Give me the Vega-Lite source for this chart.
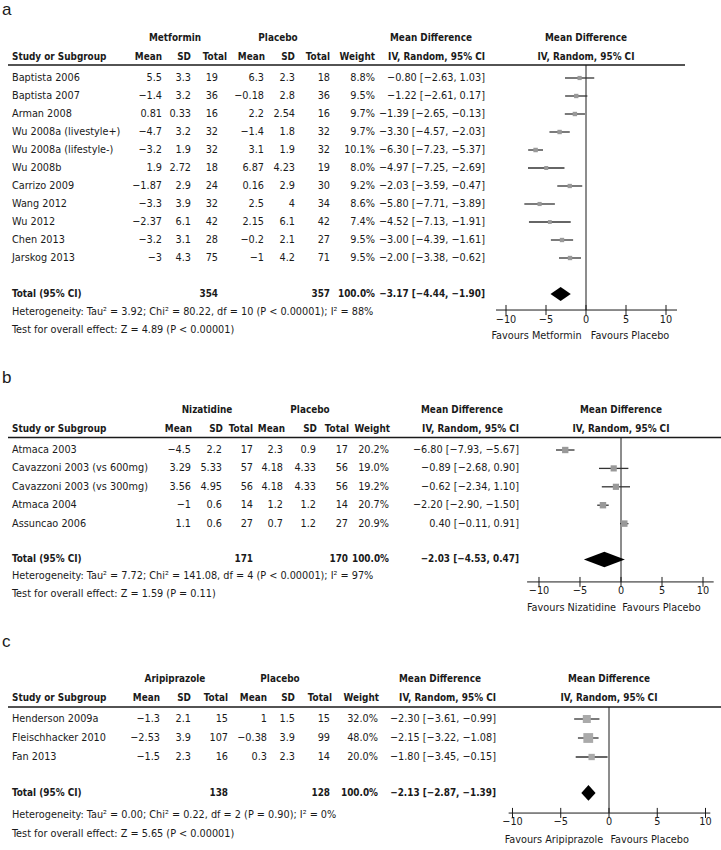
{
"$schema":"https://vega.github.io/schema/vega-lite/v6.json",
"padding":0,
"background":"white",
"spacing":0,
"config":{"view":{"stroke":null},"axis":{"disable":true},"legend":{"disable":true},
"text":{"font":"DejaVu Sans Condensed, Liberation Sans Narrow, sans-serif","fontSize":10.8,"baseline":"middle","color":"#1a1a1a"},
"rule":{"color":"#1a1a1a"},"concat":{"spacing":0}},
"datasets":{
"a":[
{"i":0,"study":"Baptista 2006","m1":5.5,"sd1":3.3,"n1":19,"m2":6.3,"sd2":2.3,"n2":18,"w":0.088,"md":-0.8,"lo":-2.63,"hi":1.03,"ci":"−0.80 [−2.63, 1.03]"},
{"i":1,"study":"Baptista 2007","m1":-1.4,"sd1":3.2,"n1":36,"m2":-0.18,"sd2":2.8,"n2":36,"w":0.095,"md":-1.22,"lo":-2.61,"hi":0.17,"ci":"−1.22 [−2.61, 0.17]"},
{"i":2,"study":"Arman 2008","m1":0.81,"sd1":0.33,"n1":16,"m2":2.2,"sd2":2.54,"n2":16,"w":0.097,"md":-1.39,"lo":-2.65,"hi":-0.13,"ci":"−1.39 [−2.65, −0.13]"},
{"i":3,"study":"Wu 2008a (livestyle+)","m1":-4.7,"sd1":3.2,"n1":32,"m2":-1.4,"sd2":1.8,"n2":32,"w":0.097,"md":-3.3,"lo":-4.57,"hi":-2.03,"ci":"−3.30 [−4.57, −2.03]"},
{"i":4,"study":"Wu 2008a (lifestyle-)","m1":-3.2,"sd1":1.9,"n1":32,"m2":3.1,"sd2":1.9,"n2":32,"w":0.101,"md":-6.3,"lo":-7.23,"hi":-5.37,"ci":"−6.30 [−7.23, −5.37]"},
{"i":5,"study":"Wu 2008b","m1":1.9,"sd1":2.72,"n1":18,"m2":6.87,"sd2":4.23,"n2":19,"w":0.08,"md":-4.97,"lo":-7.25,"hi":-2.69,"ci":"−4.97 [−7.25, −2.69]"},
{"i":6,"study":"Carrizo 2009","m1":-1.87,"sd1":2.9,"n1":24,"m2":0.16,"sd2":2.9,"n2":30,"w":0.092,"md":-2.03,"lo":-3.59,"hi":-0.47,"ci":"−2.03 [−3.59, −0.47]"},
{"i":7,"study":"Wang 2012","m1":-3.3,"sd1":3.9,"n1":32,"m2":2.5,"sd2":4,"n2":34,"w":0.086,"md":-5.8,"lo":-7.71,"hi":-3.89,"ci":"−5.80 [−7.71, −3.89]"},
{"i":8,"study":"Wu 2012","m1":-2.37,"sd1":6.1,"n1":42,"m2":2.15,"sd2":6.1,"n2":42,"w":0.074,"md":-4.52,"lo":-7.13,"hi":-1.91,"ci":"−4.52 [−7.13, −1.91]"},
{"i":9,"study":"Chen 2013","m1":-3.2,"sd1":3.1,"n1":28,"m2":-0.2,"sd2":2.1,"n2":27,"w":0.095,"md":-3,"lo":-4.39,"hi":-1.61,"ci":"−3.00 [−4.39, −1.61]"},
{"i":10,"study":"Jarskog 2013","m1":-3,"sd1":4.3,"n1":75,"m2":-1,"sd2":4.2,"n2":71,"w":0.095,"md":-2,"lo":-3.38,"hi":-0.62,"ci":"−2.00 [−3.38, −0.62]"}
],
"aTot":[{"n1":354,"n2":357,"w":1,"md":-3.17,"lo":-4.44,"hi":-1.9,"ci":"−3.17 [−4.44, −1.90]"}],
"b":[
{"i":0,"study":"Atmaca 2003","m1":-4.5,"sd1":2.2,"n1":17,"m2":2.3,"sd2":0.9,"n2":17,"w":0.202,"md":-6.8,"lo":-7.93,"hi":-5.67,"ci":"−6.80 [−7.93, −5.67]"},
{"i":1,"study":"Cavazzoni 2003 (vs 600mg)","m1":3.29,"sd1":5.33,"n1":57,"m2":4.18,"sd2":4.33,"n2":56,"w":0.19,"md":-0.89,"lo":-2.68,"hi":0.9,"ci":"−0.89 [−2.68, 0.90]"},
{"i":2,"study":"Cavazzoni 2003 (vs 300mg)","m1":3.56,"sd1":4.95,"n1":56,"m2":4.18,"sd2":4.33,"n2":56,"w":0.192,"md":-0.62,"lo":-2.34,"hi":1.1,"ci":"−0.62 [−2.34, 1.10]"},
{"i":3,"study":"Atmaca 2004","m1":-1,"sd1":0.6,"n1":14,"m2":1.2,"sd2":1.2,"n2":14,"w":0.207,"md":-2.2,"lo":-2.9,"hi":-1.5,"ci":"−2.20 [−2.90, −1.50]"},
{"i":4,"study":"Assuncao 2006","m1":1.1,"sd1":0.6,"n1":27,"m2":0.7,"sd2":1.2,"n2":27,"w":0.209,"md":0.4,"lo":-0.11,"hi":0.91,"ci":"0.40 [−0.11, 0.91]"}
],
"bTot":[{"n1":171,"n2":170,"w":1,"md":-2.03,"lo":-4.53,"hi":0.47,"ci":"−2.03 [−4.53, 0.47]"}],
"c":[
{"i":0,"study":"Henderson 2009a","m1":-1.3,"sd1":2.1,"n1":15,"m2":1,"sd2":1.5,"n2":15,"w":0.32,"md":-2.3,"lo":-3.61,"hi":-0.99,"ci":"−2.30 [−3.61, −0.99]"},
{"i":1,"study":"Fleischhacker 2010","m1":-2.53,"sd1":3.9,"n1":107,"m2":-0.38,"sd2":3.9,"n2":99,"w":0.48,"md":-2.15,"lo":-3.22,"hi":-1.08,"ci":"−2.15 [−3.22, −1.08]"},
{"i":2,"study":"Fan 2013","m1":-1.5,"sd1":2.3,"n1":16,"m2":0.3,"sd2":2.3,"n2":14,"w":0.2,"md":-1.8,"lo":-3.45,"hi":-0.15,"ci":"−1.80 [−3.45, −0.15]"}
],
"cTot":[{"n1":138,"n2":128,"w":1,"md":-2.13,"lo":-2.87,"hi":-1.39,"ci":"−2.13 [−2.87, −1.39]"}],
"ticks":[{"v":-10},{"v":-5},{"v":0},{"v":5},{"v":10}]
},
"vconcat":[
{"hconcat":[
{"width":486,"height":350,"data":{"values":[{}]},"layer":[
{"mark":{"type":"text","text":"a","font":"Liberation Sans","fontSize":17,"align":"left"},"encoding":{"x":{"datum":2,"type":"quantitative","scale":{"domain":[0,486],"nice":false,"zero":false}},"y":{"datum":-3.78,"type":"quantitative","scale":{"domain":[-4.333,15.111],"reverse":true,"nice":false,"zero":false}}}},
{"mark":{"type":"text","text":"Metformin","fontWeight":"bold","fontSize":9.9,"align":"center"},"encoding":{"x":{"datum":175},"y":{"datum":-2.22}}},
{"mark":{"type":"text","text":"Placebo","fontWeight":"bold","fontSize":9.9,"align":"center"},"encoding":{"x":{"datum":278},"y":{"datum":-2.22}}},
{"mark":{"type":"text","text":"Mean Difference","fontWeight":"bold","fontSize":9.9,"align":"center"},"encoding":{"x":{"datum":431},"y":{"datum":-2.22}}},
{"mark":{"type":"text","text":"Study or Subgroup","fontWeight":"bold","fontSize":9.9,"align":"left"},"encoding":{"x":{"datum":12},"y":{"datum":-1.17}}},
{"mark":{"type":"text","text":"Mean","fontWeight":"bold","fontSize":9.9,"align":"right"},"encoding":{"x":{"datum":162},"y":{"datum":-1.17}}},
{"mark":{"type":"text","text":"SD","fontWeight":"bold","fontSize":9.9,"align":"right"},"encoding":{"x":{"datum":191},"y":{"datum":-1.17}}},
{"mark":{"type":"text","text":"Total","fontWeight":"bold","fontSize":9.9,"align":"right"},"encoding":{"x":{"datum":227},"y":{"datum":-1.17}}},
{"mark":{"type":"text","text":"Mean","fontWeight":"bold","fontSize":9.9,"align":"right"},"encoding":{"x":{"datum":265},"y":{"datum":-1.17}}},
{"mark":{"type":"text","text":"SD","fontWeight":"bold","fontSize":9.9,"align":"right"},"encoding":{"x":{"datum":295},"y":{"datum":-1.17}}},
{"mark":{"type":"text","text":"Total","fontWeight":"bold","fontSize":9.9,"align":"right"},"encoding":{"x":{"datum":330},"y":{"datum":-1.17}}},
{"mark":{"type":"text","text":"Weight","fontWeight":"bold","fontSize":9.9,"align":"right"},"encoding":{"x":{"datum":375},"y":{"datum":-1.17}}},
{"mark":{"type":"text","text":"IV, Random, 95% CI","fontWeight":"bold","fontSize":9.9,"align":"right"},"encoding":{"x":{"datum":485},"y":{"datum":-1.17}}},
{"mark":{"type":"rule","strokeWidth":1.5},"encoding":{"x":{"datum":8},"x2":{"datum":486},"y":{"datum":-0.72}}},
{"data":{"name":"a"},"mark":{"type":"text","align":"left"},"encoding":{"x":{"datum":12},"y":{"field":"i","type":"quantitative"},"text":{"field":"study"}}},
{"data":{"name":"a"},"mark":{"type":"text","align":"right"},"encoding":{"x":{"datum":162},"y":{"field":"i","type":"quantitative"},"text":{"field":"m1","type":"quantitative"}}},
{"data":{"name":"a"},"mark":{"type":"text","align":"right"},"encoding":{"x":{"datum":191},"y":{"field":"i","type":"quantitative"},"text":{"field":"sd1","type":"quantitative"}}},
{"data":{"name":"a"},"mark":{"type":"text","align":"right"},"encoding":{"x":{"datum":218},"y":{"field":"i","type":"quantitative"},"text":{"field":"n1","type":"quantitative"}}},
{"data":{"name":"a"},"mark":{"type":"text","align":"right"},"encoding":{"x":{"datum":264},"y":{"field":"i","type":"quantitative"},"text":{"field":"m2","type":"quantitative"}}},
{"data":{"name":"a"},"mark":{"type":"text","align":"right"},"encoding":{"x":{"datum":295},"y":{"field":"i","type":"quantitative"},"text":{"field":"sd2","type":"quantitative"}}},
{"data":{"name":"a"},"mark":{"type":"text","align":"right"},"encoding":{"x":{"datum":330},"y":{"field":"i","type":"quantitative"},"text":{"field":"n2","type":"quantitative"}}},
{"data":{"name":"a"},"mark":{"type":"text","align":"right"},"encoding":{"x":{"datum":375},"y":{"field":"i","type":"quantitative"},"text":{"field":"w","type":"quantitative","format":".1%"}}},
{"data":{"name":"a"},"mark":{"type":"text","align":"right"},"encoding":{"x":{"datum":485},"y":{"field":"i","type":"quantitative"},"text":{"field":"ci"}}},
{"mark":{"type":"text","text":"Total (95% CI)","fontWeight":"bold","fontSize":9.9,"align":"left"},"encoding":{"x":{"datum":12},"y":{"datum":12}}},
{"data":{"name":"aTot"},"mark":{"type":"text","align":"right","fontWeight":"bold","fontSize":9.9},"encoding":{"x":{"datum":218},"y":{"datum":12},"text":{"field":"n1","type":"quantitative"}}},
{"data":{"name":"aTot"},"mark":{"type":"text","align":"right","fontWeight":"bold","fontSize":9.9},"encoding":{"x":{"datum":330},"y":{"datum":12},"text":{"field":"n2","type":"quantitative"}}},
{"data":{"name":"aTot"},"mark":{"type":"text","align":"right","fontWeight":"bold","fontSize":9.9},"encoding":{"x":{"datum":375},"y":{"datum":12},"text":{"field":"w","type":"quantitative","format":".1%"}}},
{"data":{"name":"aTot"},"mark":{"type":"text","align":"right","fontWeight":"bold","fontSize":9.9},"encoding":{"x":{"datum":485},"y":{"datum":12},"text":{"field":"ci"}}},
{"mark":{"type":"text","text":"Heterogeneity: Tau² = 3.92; Chi² = 80.22, df = 10 (P < 0.00001); I² = 88%","align":"left"},"encoding":{"x":{"datum":12},"y":{"datum":13}}},
{"mark":{"type":"text","text":"Test for overall effect: Z = 4.89 (P < 0.00001)","align":"left"},"encoding":{"x":{"datum":12},"y":{"datum":14}}}
]},
{"width":200,"height":350,"data":{"values":[{}]},"layer":[
{"mark":{"type":"text","text":"Mean Difference","fontWeight":"bold","fontSize":9.9},"encoding":{"x":{"datum":0,"type":"quantitative","scale":{"domain":[-12.5,12.5],"nice":false,"zero":false}},"y":{"datum":-2.22,"type":"quantitative","scale":{"domain":[-4.333,15.111],"reverse":true,"nice":false,"zero":false}}}},
{"mark":{"type":"text","text":"IV, Random, 95% CI","fontWeight":"bold","fontSize":9.9},"encoding":{"x":{"datum":0},"y":{"datum":-1.17}}},
{"mark":{"type":"rule","strokeWidth":1.5},"encoding":{"x":{"datum":-12.5},"x2":{"datum":12.375},"y":{"datum":-0.72}}},
{"mark":{"type":"rule","strokeWidth":1},"encoding":{"x":{"datum":0},"y":{"datum":-0.72},"y2":{"datum":12.89}}},
{"data":{"name":"a"},"mark":{"type":"rule","color":"#333","strokeWidth":1.3},"encoding":{"x":{"field":"lo","type":"quantitative"},"x2":{"field":"hi"},"y":{"field":"i","type":"quantitative"}}},
{"data":{"name":"a"},"mark":{"type":"point","shape":"square","filled":true,"color":"#999","opacity":1},"encoding":{"x":{"field":"md","type":"quantitative"},"y":{"field":"i","type":"quantitative"},"size":{"field":"w","type":"quantitative","scale":{"domain":[0,1],"range":[0,200]}}}},
{"data":{"name":"aTot"},"mark":{"type":"point","shape":"M-1,0L0,-0.7L1,0L0,0.7Z","filled":true,"color":"#000","opacity":1},"encoding":{"x":{"field":"md","type":"quantitative"},"y":{"datum":12},"size":{"value":412}}},
{"mark":{"type":"rule","strokeWidth":1},"encoding":{"x":{"datum":-11.25},"x2":{"datum":11.375},"y":{"datum":12.89}}},
{"data":{"name":"ticks"},"mark":{"type":"rule","strokeWidth":1},"encoding":{"x":{"field":"v","type":"quantitative"},"y":{"datum":12.61},"y2":{"datum":13.17}}},
{"data":{"name":"ticks"},"mark":{"type":"text"},"encoding":{"x":{"field":"v","type":"quantitative"},"y":{"datum":13.47},"text":{"field":"v","type":"quantitative"}}},
{"mark":{"type":"text","text":"Favours Metformin","align":"right"},"encoding":{"x":{"datum":-0.55},"y":{"datum":14.33}}},
{"mark":{"type":"text","text":"Favours Placebo","align":"left"},"encoding":{"x":{"datum":0.6},"y":{"datum":14.33}}}
]}
],"spacing":0,"bounds":"flush"},
{"hconcat":[
{"width":521,"height":270,"data":{"values":[{}]},"layer":[
{"mark":{"type":"text","text":"b","font":"Liberation Sans","fontSize":17,"align":"left"},"encoding":{"x":{"datum":2,"type":"quantitative","scale":{"domain":[0,521],"nice":false,"zero":false}},"y":{"datum":-3.91,"type":"quantitative","scale":{"domain":[-5.435,9.239],"reverse":true,"nice":false,"zero":false}}}},
{"mark":{"type":"text","text":"Nizatidine","fontWeight":"bold","fontSize":9.9,"align":"center"},"encoding":{"x":{"datum":207},"y":{"datum":-2.17}}},
{"mark":{"type":"text","text":"Placebo","fontWeight":"bold","fontSize":9.9,"align":"center"},"encoding":{"x":{"datum":310},"y":{"datum":-2.17}}},
{"mark":{"type":"text","text":"Mean Difference","fontWeight":"bold","fontSize":9.9,"align":"center"},"encoding":{"x":{"datum":462},"y":{"datum":-2.17}}},
{"mark":{"type":"text","text":"Study or Subgroup","fontWeight":"bold","fontSize":9.9,"align":"left"},"encoding":{"x":{"datum":12},"y":{"datum":-1.14}}},
{"mark":{"type":"text","text":"Mean","fontWeight":"bold","fontSize":9.9,"align":"right"},"encoding":{"x":{"datum":192},"y":{"datum":-1.14}}},
{"mark":{"type":"text","text":"SD","fontWeight":"bold","fontSize":9.9,"align":"right"},"encoding":{"x":{"datum":223},"y":{"datum":-1.14}}},
{"mark":{"type":"text","text":"Total","fontWeight":"bold","fontSize":9.9,"align":"right"},"encoding":{"x":{"datum":253},"y":{"datum":-1.14}}},
{"mark":{"type":"text","text":"Mean","fontWeight":"bold","fontSize":9.9,"align":"right"},"encoding":{"x":{"datum":285},"y":{"datum":-1.14}}},
{"mark":{"type":"text","text":"SD","fontWeight":"bold","fontSize":9.9,"align":"right"},"encoding":{"x":{"datum":317},"y":{"datum":-1.14}}},
{"mark":{"type":"text","text":"Total","fontWeight":"bold","fontSize":9.9,"align":"right"},"encoding":{"x":{"datum":349},"y":{"datum":-1.14}}},
{"mark":{"type":"text","text":"Weight","fontWeight":"bold","fontSize":9.9,"align":"right"},"encoding":{"x":{"datum":390},"y":{"datum":-1.14}}},
{"mark":{"type":"text","text":"IV, Random, 95% CI","fontWeight":"bold","fontSize":9.9,"align":"right"},"encoding":{"x":{"datum":519},"y":{"datum":-1.14}}},
{"mark":{"type":"rule","strokeWidth":1.5},"encoding":{"x":{"datum":8},"x2":{"datum":521},"y":{"datum":-0.68}}},
{"data":{"name":"b"},"mark":{"type":"text","align":"left"},"encoding":{"x":{"datum":12},"y":{"field":"i","type":"quantitative"},"text":{"field":"study"}}},
{"data":{"name":"b"},"mark":{"type":"text","align":"right"},"encoding":{"x":{"datum":191},"y":{"field":"i","type":"quantitative"},"text":{"field":"m1","type":"quantitative"}}},
{"data":{"name":"b"},"mark":{"type":"text","align":"right"},"encoding":{"x":{"datum":222},"y":{"field":"i","type":"quantitative"},"text":{"field":"sd1","type":"quantitative"}}},
{"data":{"name":"b"},"mark":{"type":"text","align":"right"},"encoding":{"x":{"datum":253},"y":{"field":"i","type":"quantitative"},"text":{"field":"n1","type":"quantitative"}}},
{"data":{"name":"b"},"mark":{"type":"text","align":"right"},"encoding":{"x":{"datum":283},"y":{"field":"i","type":"quantitative"},"text":{"field":"m2","type":"quantitative"}}},
{"data":{"name":"b"},"mark":{"type":"text","align":"right"},"encoding":{"x":{"datum":316},"y":{"field":"i","type":"quantitative"},"text":{"field":"sd2","type":"quantitative"}}},
{"data":{"name":"b"},"mark":{"type":"text","align":"right"},"encoding":{"x":{"datum":348},"y":{"field":"i","type":"quantitative"},"text":{"field":"n2","type":"quantitative"}}},
{"data":{"name":"b"},"mark":{"type":"text","align":"right"},"encoding":{"x":{"datum":389},"y":{"field":"i","type":"quantitative"},"text":{"field":"w","type":"quantitative","format":".1%"}}},
{"data":{"name":"b"},"mark":{"type":"text","align":"right"},"encoding":{"x":{"datum":519},"y":{"field":"i","type":"quantitative"},"text":{"field":"ci"}}},
{"mark":{"type":"text","text":"Total (95% CI)","fontWeight":"bold","fontSize":9.9,"align":"left"},"encoding":{"x":{"datum":12},"y":{"datum":5.95}}},
{"data":{"name":"bTot"},"mark":{"type":"text","align":"right","fontWeight":"bold","fontSize":9.9},"encoding":{"x":{"datum":253},"y":{"datum":5.95},"text":{"field":"n1","type":"quantitative"}}},
{"data":{"name":"bTot"},"mark":{"type":"text","align":"right","fontWeight":"bold","fontSize":9.9},"encoding":{"x":{"datum":348},"y":{"datum":5.95},"text":{"field":"n2","type":"quantitative"}}},
{"data":{"name":"bTot"},"mark":{"type":"text","align":"right","fontWeight":"bold","fontSize":9.9},"encoding":{"x":{"datum":389},"y":{"datum":5.95},"text":{"field":"w","type":"quantitative","format":".1%"}}},
{"data":{"name":"bTot"},"mark":{"type":"text","align":"right","fontWeight":"bold","fontSize":9.9},"encoding":{"x":{"datum":519},"y":{"datum":5.95},"text":{"field":"ci"}}},
{"mark":{"type":"text","text":"Heterogeneity: Tau² = 7.72; Chi² = 141.08, df = 4 (P < 0.00001); I² = 97%","align":"left"},"encoding":{"x":{"datum":12},"y":{"datum":6.85}}},
{"mark":{"type":"text","text":"Test for overall effect: Z = 1.59 (P = 0.11)","align":"left"},"encoding":{"x":{"datum":12},"y":{"datum":7.83}}}
]},
{"width":200,"height":270,"data":{"values":[{}]},"layer":[
{"mark":{"type":"text","text":"Mean Difference","fontWeight":"bold","fontSize":9.9},"encoding":{"x":{"datum":0,"type":"quantitative","scale":{"domain":[-12.195,12.195],"nice":false,"zero":false}},"y":{"datum":-2.17,"type":"quantitative","scale":{"domain":[-5.435,9.239],"reverse":true,"nice":false,"zero":false}}}},
{"mark":{"type":"text","text":"IV, Random, 95% CI","fontWeight":"bold","fontSize":9.9},"encoding":{"x":{"datum":0},"y":{"datum":-1.14}}},
{"mark":{"type":"rule","strokeWidth":1.5},"encoding":{"x":{"datum":-12.195},"x2":{"datum":12.195},"y":{"datum":-0.68}}},
{"mark":{"type":"rule","strokeWidth":1},"encoding":{"x":{"datum":0},"y":{"datum":-0.68},"y2":{"datum":7.17}}},
{"data":{"name":"b"},"mark":{"type":"rule","color":"#333","strokeWidth":1.3},"encoding":{"x":{"field":"lo","type":"quantitative"},"x2":{"field":"hi"},"y":{"field":"i","type":"quantitative"}}},
{"data":{"name":"b"},"mark":{"type":"point","shape":"square","filled":true,"color":"#999","opacity":1},"encoding":{"x":{"field":"md","type":"quantitative"},"y":{"field":"i","type":"quantitative"},"size":{"field":"w","type":"quantitative","scale":{"domain":[0,1],"range":[0,200]}}}},
{"data":{"name":"bTot"},"mark":{"type":"point","shape":"M-1,0L0,-0.38L1,0L0,0.38Z","filled":true,"color":"#000","opacity":1},"encoding":{"x":{"field":"md","type":"quantitative"},"y":{"datum":5.95},"size":{"value":1681}}},
{"mark":{"type":"rule","strokeWidth":1},"encoding":{"x":{"datum":-11.45},"x2":{"datum":11.3},"y":{"datum":7.17}}},
{"data":{"name":"ticks"},"mark":{"type":"rule","strokeWidth":1},"encoding":{"x":{"field":"v","type":"quantitative"},"y":{"datum":6.9},"y2":{"datum":7.44}}},
{"data":{"name":"ticks"},"mark":{"type":"text"},"encoding":{"x":{"field":"v","type":"quantitative"},"y":{"datum":7.66},"text":{"field":"v","type":"quantitative"}}},
{"mark":{"type":"text","text":"Favours Nizatidine","align":"right"},"encoding":{"x":{"datum":-0.6},"y":{"datum":8.59}}},
{"mark":{"type":"text","text":"Favours Placebo","align":"left"},"encoding":{"x":{"datum":0.15},"y":{"datum":8.59}}}
]}
],"spacing":0,"bounds":"flush"},
{"hconcat":[
{"width":497,"height":230,"data":{"values":[{}]},"layer":[
{"mark":{"type":"text","text":"c","font":"Liberation Sans","fontSize":17,"align":"left"},"encoding":{"x":{"datum":2,"type":"quantitative","scale":{"domain":[0,497],"nice":false,"zero":false}},"y":{"datum":-4.05,"type":"quantitative","scale":{"domain":[-5.2105,6.8947],"reverse":true,"nice":false,"zero":false}}}},
{"mark":{"type":"text","text":"Aripiprazole","fontWeight":"bold","fontSize":9.9,"align":"center"},"encoding":{"x":{"datum":175},"y":{"datum":-2.105}}},
{"mark":{"type":"text","text":"Placebo","fontWeight":"bold","fontSize":9.9,"align":"center"},"encoding":{"x":{"datum":280},"y":{"datum":-2.105}}},
{"mark":{"type":"text","text":"Mean Difference","fontWeight":"bold","fontSize":9.9,"align":"center"},"encoding":{"x":{"datum":440},"y":{"datum":-2.105}}},
{"mark":{"type":"text","text":"Study or Subgroup","fontWeight":"bold","fontSize":9.9,"align":"left"},"encoding":{"x":{"datum":12},"y":{"datum":-1.105}}},
{"mark":{"type":"text","text":"Mean","fontWeight":"bold","fontSize":9.9,"align":"right"},"encoding":{"x":{"datum":160},"y":{"datum":-1.105}}},
{"mark":{"type":"text","text":"SD","fontWeight":"bold","fontSize":9.9,"align":"right"},"encoding":{"x":{"datum":191},"y":{"datum":-1.105}}},
{"mark":{"type":"text","text":"Total","fontWeight":"bold","fontSize":9.9,"align":"right"},"encoding":{"x":{"datum":228},"y":{"datum":-1.105}}},
{"mark":{"type":"text","text":"Mean","fontWeight":"bold","fontSize":9.9,"align":"right"},"encoding":{"x":{"datum":267},"y":{"datum":-1.105}}},
{"mark":{"type":"text","text":"SD","fontWeight":"bold","fontSize":9.9,"align":"right"},"encoding":{"x":{"datum":295},"y":{"datum":-1.105}}},
{"mark":{"type":"text","text":"Total","fontWeight":"bold","fontSize":9.9,"align":"right"},"encoding":{"x":{"datum":332},"y":{"datum":-1.105}}},
{"mark":{"type":"text","text":"Weight","fontWeight":"bold","fontSize":9.9,"align":"right"},"encoding":{"x":{"datum":379},"y":{"datum":-1.105}}},
{"mark":{"type":"text","text":"IV, Random, 95% CI","fontWeight":"bold","fontSize":9.9,"align":"right"},"encoding":{"x":{"datum":496},"y":{"datum":-1.105}}},
{"mark":{"type":"rule","strokeWidth":1.5},"encoding":{"x":{"datum":8},"x2":{"datum":497},"y":{"datum":-0.63}}},
{"data":{"name":"c"},"mark":{"type":"text","align":"left"},"encoding":{"x":{"datum":12},"y":{"field":"i","type":"quantitative"},"text":{"field":"study"}}},
{"data":{"name":"c"},"mark":{"type":"text","align":"right"},"encoding":{"x":{"datum":160},"y":{"field":"i","type":"quantitative"},"text":{"field":"m1","type":"quantitative"}}},
{"data":{"name":"c"},"mark":{"type":"text","align":"right"},"encoding":{"x":{"datum":191},"y":{"field":"i","type":"quantitative"},"text":{"field":"sd1","type":"quantitative"}}},
{"data":{"name":"c"},"mark":{"type":"text","align":"right"},"encoding":{"x":{"datum":228},"y":{"field":"i","type":"quantitative"},"text":{"field":"n1","type":"quantitative"}}},
{"data":{"name":"c"},"mark":{"type":"text","align":"right"},"encoding":{"x":{"datum":267},"y":{"field":"i","type":"quantitative"},"text":{"field":"m2","type":"quantitative"}}},
{"data":{"name":"c"},"mark":{"type":"text","align":"right"},"encoding":{"x":{"datum":295},"y":{"field":"i","type":"quantitative"},"text":{"field":"sd2","type":"quantitative"}}},
{"data":{"name":"c"},"mark":{"type":"text","align":"right"},"encoding":{"x":{"datum":330},"y":{"field":"i","type":"quantitative"},"text":{"field":"n2","type":"quantitative"}}},
{"data":{"name":"c"},"mark":{"type":"text","align":"right"},"encoding":{"x":{"datum":378},"y":{"field":"i","type":"quantitative"},"text":{"field":"w","type":"quantitative","format":".1%"}}},
{"data":{"name":"c"},"mark":{"type":"text","align":"right"},"encoding":{"x":{"datum":496},"y":{"field":"i","type":"quantitative"},"text":{"field":"ci"}}},
{"mark":{"type":"text","text":"Total (95% CI)","fontWeight":"bold","fontSize":9.9,"align":"left"},"encoding":{"x":{"datum":12},"y":{"datum":3.89}}},
{"data":{"name":"cTot"},"mark":{"type":"text","align":"right","fontWeight":"bold","fontSize":9.9},"encoding":{"x":{"datum":228},"y":{"datum":3.89},"text":{"field":"n1","type":"quantitative"}}},
{"data":{"name":"cTot"},"mark":{"type":"text","align":"right","fontWeight":"bold","fontSize":9.9},"encoding":{"x":{"datum":330},"y":{"datum":3.89},"text":{"field":"n2","type":"quantitative"}}},
{"data":{"name":"cTot"},"mark":{"type":"text","align":"right","fontWeight":"bold","fontSize":9.9},"encoding":{"x":{"datum":378},"y":{"datum":3.89},"text":{"field":"w","type":"quantitative","format":".1%"}}},
{"data":{"name":"cTot"},"mark":{"type":"text","align":"right","fontWeight":"bold","fontSize":9.9},"encoding":{"x":{"datum":496},"y":{"datum":3.89},"text":{"field":"ci"}}},
{"mark":{"type":"text","text":"Heterogeneity: Tau² = 0.00; Chi² = 0.22, df = 2 (P = 0.90); I² = 0%","align":"left"},"encoding":{"x":{"datum":12},"y":{"datum":5.05}}},
{"mark":{"type":"text","text":"Test for overall effect: Z = 5.65 (P < 0.00001)","align":"left"},"encoding":{"x":{"datum":12},"y":{"datum":6.05}}}
]},
{"width":224,"height":230,"data":{"values":[{}]},"layer":[
{"mark":{"type":"text","text":"Mean Difference","fontWeight":"bold","fontSize":9.9},"encoding":{"x":{"datum":0,"type":"quantitative","scale":{"domain":[-11.606,11.606],"nice":false,"zero":false}},"y":{"datum":-2.105,"type":"quantitative","scale":{"domain":[-5.2105,6.8947],"reverse":true,"nice":false,"zero":false}}}},
{"mark":{"type":"text","text":"IV, Random, 95% CI","fontWeight":"bold","fontSize":9.9},"encoding":{"x":{"datum":0},"y":{"datum":-1.105}}},
{"mark":{"type":"rule","strokeWidth":1.5},"encoding":{"x":{"datum":-11.606},"x2":{"datum":11.606},"y":{"datum":-0.63}}},
{"mark":{"type":"rule","strokeWidth":1},"encoding":{"x":{"datum":0},"y":{"datum":-0.63},"y2":{"datum":4.95}}},
{"data":{"name":"c"},"mark":{"type":"rule","color":"#333","strokeWidth":1.3},"encoding":{"x":{"field":"lo","type":"quantitative"},"x2":{"field":"hi"},"y":{"field":"i","type":"quantitative"}}},
{"data":{"name":"c"},"mark":{"type":"point","shape":"square","filled":true,"color":"#aaa","opacity":1},"encoding":{"x":{"field":"md","type":"quantitative"},"y":{"field":"i","type":"quantitative"},"size":{"field":"w","type":"quantitative","scale":{"domain":[0,1],"range":[0,200]}}}},
{"data":{"name":"cTot"},"mark":{"type":"point","shape":"M-1,0L0,-1.1L1,0L0,1.1Z","filled":true,"color":"#000","opacity":1},"encoding":{"x":{"field":"md","type":"quantitative"},"y":{"datum":3.89},"size":{"value":204}}},
{"mark":{"type":"rule","strokeWidth":1},"encoding":{"x":{"datum":-10.4},"x2":{"datum":10.5},"y":{"datum":4.95}}},
{"data":{"name":"ticks"},"mark":{"type":"rule","strokeWidth":1},"encoding":{"x":{"field":"v","type":"quantitative"},"y":{"datum":4.68},"y2":{"datum":5.21}}},
{"data":{"name":"ticks"},"mark":{"type":"text"},"encoding":{"x":{"field":"v","type":"quantitative"},"y":{"datum":5.42},"text":{"field":"v","type":"quantitative"}}},
{"mark":{"type":"text","text":"Favours Aripiprazole","align":"right"},"encoding":{"x":{"datum":-0.6},"y":{"datum":6.37}}},
{"mark":{"type":"text","text":"Favours Placebo","align":"left"},"encoding":{"x":{"datum":0.15},"y":{"datum":6.37}}}
]}
],"spacing":0,"bounds":"flush"}
]
}
